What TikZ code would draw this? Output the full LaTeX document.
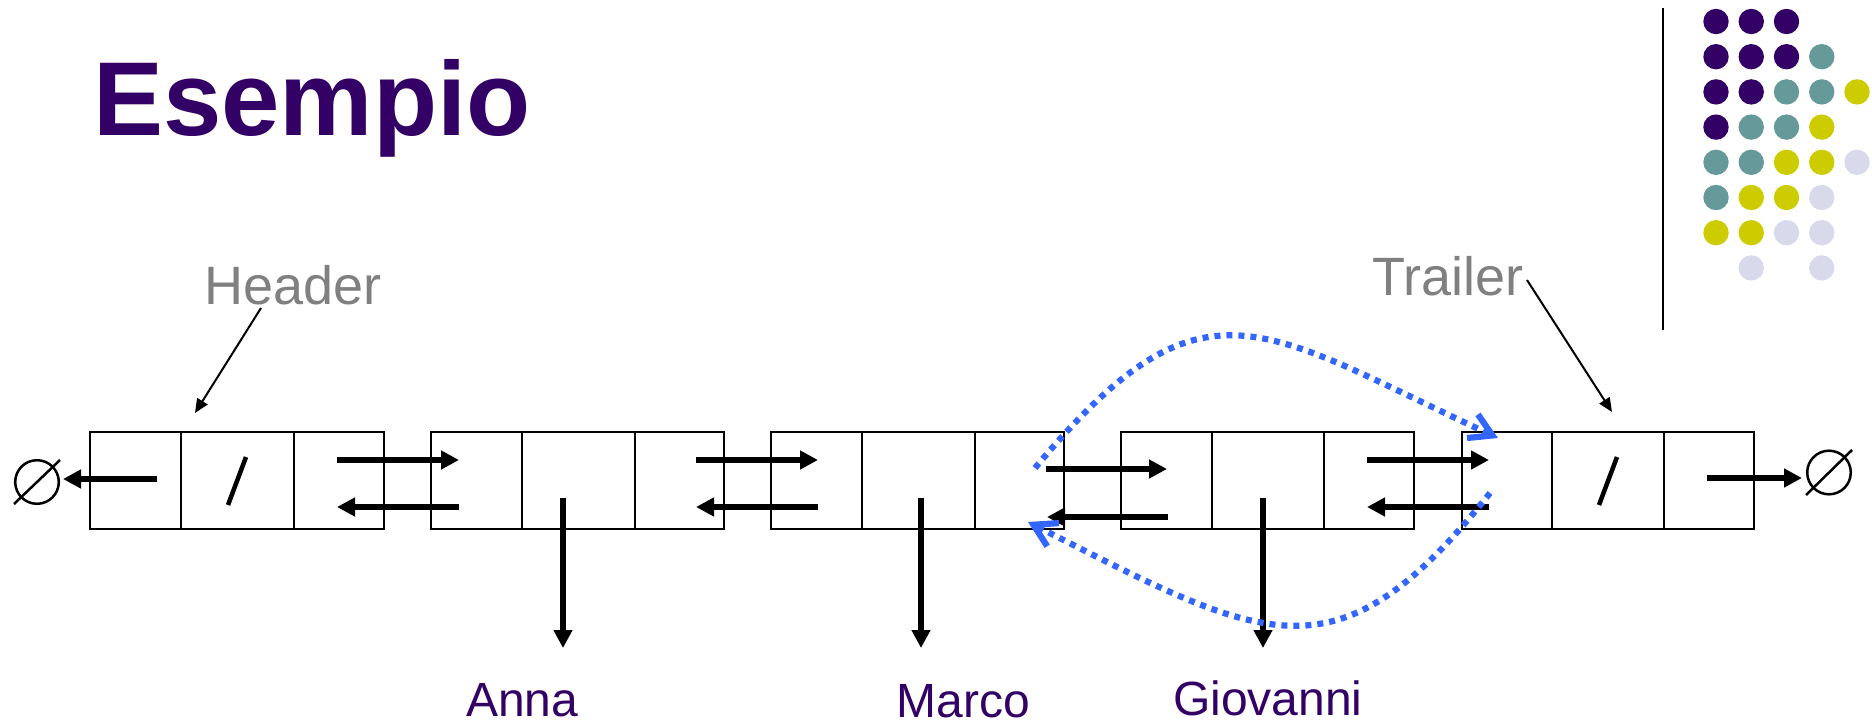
\documentclass[tikz,border=0pt]{standalone}
\usepackage{fontspec}
\setmainfont{Liberation Sans}
\usetikzlibrary{arrows.meta}
\definecolor{deeppurple}{RGB}{51,0,102}
\definecolor{dotteal}{RGB}{102,153,153}
\definecolor{dotyellow}{RGB}{204,204,0}
\definecolor{dotlavender}{RGB}{217,217,236}
\definecolor{labelgray}{RGB}{128,128,128}
\definecolor{hopblue}{RGB}{51,102,255}

\begin{document}
\begin{tikzpicture}[x=1pt,y=-1pt,
  cell/.style={draw, line width=1.5pt, rectangle, inner sep=0pt, outer sep=0pt,
               minimum height=97pt},
  ptr/.style={line width=5.7pt, -{Triangle[length=18pt,width=18pt]}},
  callout/.style={line width=2pt, -{Triangle[length=14pt,width=12pt]}},
  hop/.style={hopblue, line width=6.2pt, dash pattern=on 6pt off 6pt,
              -{Straight Barb[length=22pt,width=26pt]}},
  nullring/.style={circle, draw, line width=2.5pt, minimum size=43.6pt,
                   inner sep=0pt, outer sep=0pt},
  slashmark/.style={line width=4.5pt},
  caption/.style={anchor=base west, inner sep=0pt, font=\fontsize{54}{60}\selectfont,
                  text=labelgray},
  itemname/.style={anchor=base west, inner sep=0pt, font=\fontsize{48}{54}\selectfont,
                   text=deeppurple}]

\useasboundingbox (0,0) rectangle (1872,726);

% title
\node[anchor=base west, inner sep=0pt, font=\fontsize{105}{110}\selectfont\bfseries,
      text=deeppurple] (title) at (93,135) {Esempio};

% decorative rule and dot grid
\draw[line width=2.2pt] (1663,8) -- (1663,330);
\foreach \c/\r/\col in {
  1/1/deeppurple, 2/1/deeppurple, 3/1/deeppurple,
  1/2/deeppurple, 2/2/deeppurple, 3/2/deeppurple, 4/2/dotteal,
  1/3/deeppurple, 2/3/deeppurple, 3/3/dotteal, 4/3/dotteal, 5/3/dotyellow,
  1/4/deeppurple, 2/4/dotteal, 3/4/dotteal, 4/4/dotyellow,
  1/5/dotteal, 2/5/dotteal, 3/5/dotyellow, 4/5/dotyellow, 5/5/dotlavender,
  1/6/dotteal, 2/6/dotyellow, 3/6/dotyellow, 4/6/dotlavender,
  1/7/dotyellow, 2/7/dotyellow, 3/7/dotlavender, 4/7/dotlavender,
  2/8/dotlavender, 4/8/dotlavender}
  \fill[\col] ({1716+(\c-1)*35.25},{21.5+(\r-1)*35.2}) circle [radius=12.7pt];

% list cells: header, Anna, Marco, Giovanni, trailer
\node[cell, minimum width=91pt]  (h1) at (135.5,480.5) {};
\node[cell, minimum width=113pt] (h2) at (237.5,480.5) {};
\node[cell, minimum width=90pt]  (h3) at (339,480.5) {};

\node[cell, minimum width=91pt]  (a1) at (476.5,480.5) {};
\node[cell, minimum width=113pt] (a2) at (578.5,480.5) {};
\node[cell, minimum width=89pt]  (a3) at (679.5,480.5) {};

\node[cell, minimum width=91pt]  (m1) at (816.5,480.5) {};
\node[cell, minimum width=113pt] (m2) at (918.5,480.5) {};
\node[cell, minimum width=89pt]  (m3) at (1019.5,480.5) {};

\node[cell, minimum width=91pt]  (g1) at (1166.5,480.5) {};
\node[cell, minimum width=112pt] (g2) at (1268,480.5) {};
\node[cell, minimum width=90pt]  (g3) at (1369,480.5) {};

\node[cell, minimum width=90pt]  (t1) at (1507,480.5) {};
\node[cell, minimum width=112pt] (t2) at (1608,480.5) {};
\node[cell, minimum width=90pt]  (t3) at (1709,480.5) {};

% empty element marks in header and trailer
\draw[slashmark] (228,505) -- (246,457);
\draw[slashmark] (1599,505) -- (1617,457);

% null ends
\node[nullring] (nullL) at (37,482) {};
\draw[line width=2.5pt] (14,504) -- (60,460);
\node[nullring] (nullR) at (1829,472.5) {};
\draw[line width=2.5pt] (1806,495) -- (1852,450);

% link end points
\coordinate (hPrevS) at (157,479);  \coordinate (hPrevE) at (63,479);
\coordinate (tNextS) at (1707,478); \coordinate (tNextE) at (1802,478);

\coordinate (f1s) at (337,460);  \coordinate (f1e) at (459,460);
\coordinate (b1s) at (459,507);  \coordinate (b1e) at (337,507);
\coordinate (f2s) at (696,460);  \coordinate (f2e) at (818,460);
\coordinate (b2s) at (818,507);  \coordinate (b2e) at (696,507);
\coordinate (f3s) at (1046,469); \coordinate (f3e) at (1167,469);
\coordinate (b3s) at (1168,517); \coordinate (b3e) at (1047,517);
\coordinate (f4s) at (1367,460); \coordinate (f4e) at (1489,460);
\coordinate (b4s) at (1489,507); \coordinate (b4e) at (1367,507);

\coordinate (eAs) at (563,498);  \coordinate (eAe) at (563,648);
\coordinate (eMs) at (921,498);  \coordinate (eMe) at (921,648);
\coordinate (eGs) at (1263,498); \coordinate (eGe) at (1263,648);

\draw[ptr] (hPrevS) -- (hPrevE);
\draw[ptr] (tNextS) -- (tNextE);
\draw[ptr] (f1s) -- (f1e);  \draw[ptr] (b1s) -- (b1e);
\draw[ptr] (f2s) -- (f2e);  \draw[ptr] (b2s) -- (b2e);
\draw[ptr] (f3s) -- (f3e);  \draw[ptr] (b3s) -- (b3e);
\draw[ptr] (f4s) -- (f4e);  \draw[ptr] (b4s) -- (b4e);
\draw[ptr] (eAs) -- (eAe);
\draw[ptr] (eMs) -- (eMe);
\draw[ptr] (eGs) -- (eGe);

% element names
\node[itemname] (anna) at (466,716) {Anna};
\node[itemname] (marco) at (896.5,717) {Marco};
\node[itemname] (giovanni) at (1173,715) {Giovanni};

% sentinel captions
\node[caption] (hdr) at (204,304) {Header};
\node[caption] (trl) at (1372,295) {Trailer};
\coordinate (hdrFrom) at (261,308);  \coordinate (hdrTo) at (195,413);
\coordinate (trlFrom) at (1527,280); \coordinate (trlTo) at (1612,412);
\draw[callout] (hdrFrom) -- (hdrTo);
\draw[callout] (trlFrom) -- (trlTo);

% re-linked pointers after removing Giovanni
\coordinate (hopTs) at (1035,468); \coordinate (hopTe) at (1498,438);
\coordinate (hopBs) at (1490,493); \coordinate (hopBe) at (1028,522);
\draw[hop] (hopTs) .. controls (1203,266) and (1260,328) .. (hopTe);
\draw[hop] (hopBs) .. controls (1336,687) and (1265,642) .. (hopBe);

\end{tikzpicture}
\end{document}
